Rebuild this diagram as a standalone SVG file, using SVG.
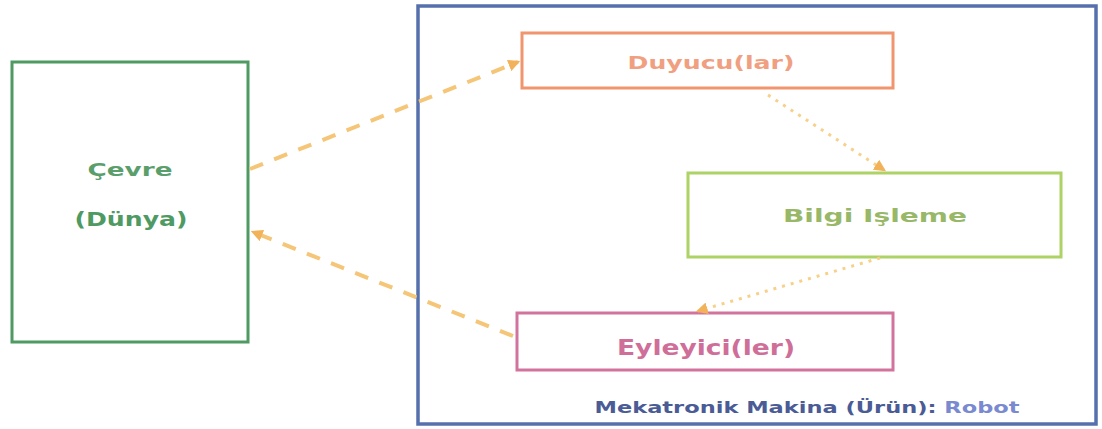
<svg xmlns="http://www.w3.org/2000/svg" width="1102" height="429" viewBox="0 0 1102 429">
  <defs>
    <marker id="ah" viewBox="0 0 10 10" refX="8" refY="5" markerWidth="3" markerHeight="3" orient="auto" markerUnits="strokeWidth">
      <path d="M0,0 L10,5 L0,10 z" fill="#f2b25a"/>
    </marker>
    <marker id="ahs" viewBox="0 0 10 10" refX="8" refY="5" markerWidth="4" markerHeight="4" orient="auto" markerUnits="strokeWidth">
      <path d="M0,0 L10,5 L0,10 z" fill="#f2b25a"/>
    </marker>
  </defs>
  <style>
    .box { fill: #ffffff; stroke-width: 3; }
    .lbl { font-family: "DejaVu Sans", "Liberation Sans", sans-serif; font-weight: bold; text-anchor: middle; }
    .dash { fill: none; stroke: #f5c578; stroke-width: 4; stroke-dasharray: 14 12; }
    .dot { fill: none; stroke: #f7d08a; stroke-width: 3; stroke-dasharray: 3 6; }
  </style>
  <rect width="1102" height="429" fill="#ffffff"/>

  <!-- mechatronic machine frame -->
  <g id="robot">
    <rect x="418" y="6" width="678" height="418" fill="none" stroke="#5570ad" stroke-width="3.5"/>
    <text class="lbl" x="807" y="413" font-size="15" fill="#4a5b95" textLength="425" lengthAdjust="spacingAndGlyphs">Mekatronik Makina (Ürün): <tspan fill="#7a8ad0">Robot</tspan></text>
  </g>

  <g id="cevre">
    <rect class="box" x="12" y="62" width="236" height="280" stroke="#4e9a62"/>
    <text class="lbl" x="130" y="176" font-size="17" fill="#5a9e6c" textLength="85" lengthAdjust="spacingAndGlyphs">Çevre</text>
    <text class="lbl" x="131" y="226" font-size="19" fill="#4e9a62" textLength="113" lengthAdjust="spacingAndGlyphs">(Dünya)</text>
  </g>

  <g id="duyucu">
    <rect class="box" x="522" y="33" width="371" height="55" stroke="#f0956e"/>
    <text class="lbl" x="711" y="69" font-size="18" fill="#f0a080" textLength="167" lengthAdjust="spacingAndGlyphs">Duyucu(lar)</text>
  </g>

  <g id="bilgi">
    <rect class="box" x="688" y="173" width="373" height="84" stroke="#add266"/>
    <text class="lbl" x="875" y="222" font-size="18" fill="#98b868" textLength="184" lengthAdjust="spacingAndGlyphs">Bilgi Işleme</text>
  </g>

  <g id="eyleyici">
    <rect class="box" x="517" y="313" width="376" height="57" stroke="#d2739d"/>
    <text class="lbl" x="706" y="355" font-size="22" fill="#cf6e98" textLength="178" lengthAdjust="spacingAndGlyphs">Eyleyici(ler)</text>
  </g>

  <!-- connectors -->
  <g id="connectors">
    <path class="dash" d="M250,169 L518,62" marker-end="url(#ah)"/>
    <path class="dash" d="M513,336 L253,232" marker-end="url(#ah)"/>
    <path class="dot" d="M768,95 L884,170" marker-end="url(#ahs)"/>
    <path class="dot" d="M880,258 L698,311" marker-end="url(#ahs)"/>
  </g>
</svg>
